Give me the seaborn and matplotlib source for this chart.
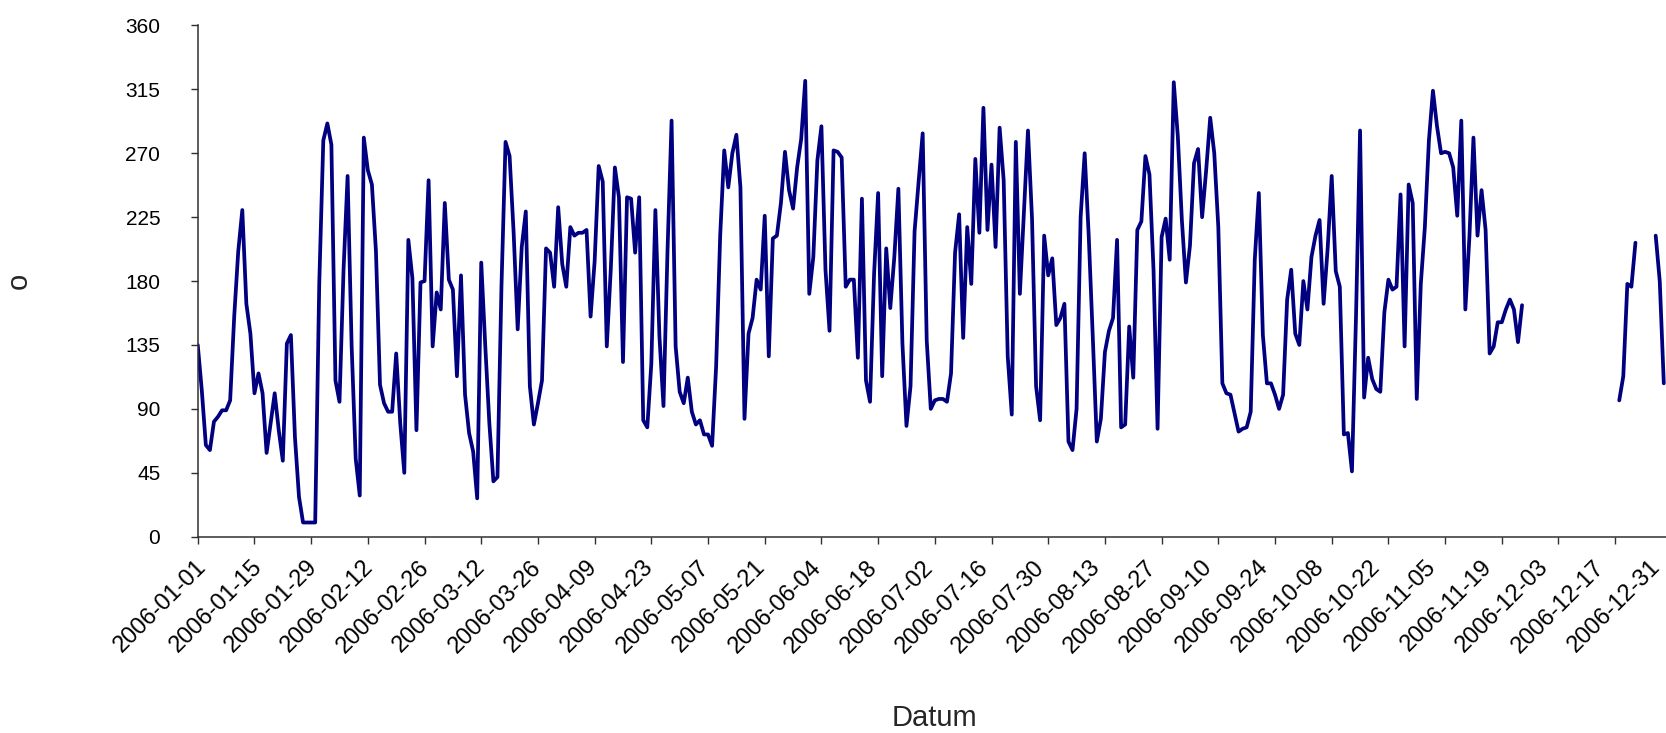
import numpy as np
import pandas as pd
import matplotlib
matplotlib.use("Agg")
import matplotlib.pyplot as plt
import matplotlib.dates as mdates
from matplotlib.transforms import ScaledTranslation
import seaborn as sns

nan = np.nan

# daily values (degrees), one list per month of 2006
jan = [135, 103, 64.5, 61, 81, 84.5, 89, 89, 96, 155, 201, 230, 164, 143, 101, 115,
       101, 59, 80, 101, 75, 53.5, 136, 142, 70, 28, 10, 10, 10, 10, 178]
feb = [279, 291, 276, 110, 95, 188, 254, 134, 55, 29, 281, 258, 248, 201, 107, 94,
       88, 88, 129, 80, 45, 209, 182, 75, 179, 180, 251, 134]
mar = [172, 160, 235, 181, 174, 113, 184, 100, 73, 60, 27, 193, 134, 80, 39, 42,
       177, 278, 268, 214, 146, 204, 229, 106, 79, 94, 110, 203, 200, 176, 232]
apr = [192, 176, 218, 212, 214, 214, 216, 155, 194, 261, 250, 134, 189, 260, 239,
       123, 239, 238, 200, 239, 82, 77, 122, 230, 141, 92, 202, 293, 134, 102]
may = [94, 112, 88, 79, 82, 72, 72, 64, 120, 212, 272, 246, 270, 283, 246, 83,
       143, 154, 181, 174, 226, 127, 210, 212, 235, 271, 244, 231, 260, 280, 321]
jun = [171, 197, 265, 289, 188, 145, 272, 271, 267, 176, 181, 181, 126, 238, 110,
       95, 185, 242, 113, 203, 161, 197, 245, 136, 78, 106, 215, 250, 284, 138]
jul = [90, 96, 97, 97, 95, 115, 200, 227, 140, 218, 178, 266, 214, 302, 216, 262,
       204, 288, 251, 127, 86, 278, 171, 228, 286, 224, 106, 82, 212, 184, 196]
aug = [149, 154, 164, 67, 61, 90, 225, 270, 212, 141, 67, 83, 130, 145, 154, 209,
       77, 79, 148, 112, 216, 222, 268, 255, 188, 76, 211, 224, 195, 320, 282]
sep = [223, 179, 205, 263, 273, 225, 258, 295, 270, 218, 108, 101, 100, 87, 74,
       76, 77, 88, 195, 242, 142, 108, 108, 100, 90, 100, 167, 188, 143, 135]
oct_ = [180, 160, 197, 212, 223, 164, 203, 254, 187, 176, 72, 73, 46, 155, 286, 98,
        126, 111, 104, 102, 158, 181, 174, 176, 241, 134, 248, 235, 97, 178, 218]
nov = [279, 314, 289, 270, 271, 270, 260, 226, 293, 160, 211, 281, 212, 244, 216,
       129, 134, 151, 151, 160, 167, 160, 137, 163, nan, nan, nan, nan, nan, nan]
dec = [nan] * 17 + [96, 113, 178, 176, 207] + [nan] * 4 + [212, 180, 108, nan, nan]

values = np.array(jan + feb + mar + apr + may + jun + jul + aug + sep + oct_ + nov + dec, dtype=float)
dates = pd.date_range("2006-01-01", periods=len(values), freq="D")

df = pd.DataFrame({"Datum": dates, "grad": values})
# give every run between missing days its own unit so the gaps stay open
df["seg"] = df["grad"].isna().cumsum()
df = df.dropna()

sns.set_style("white")
plt.rcParams["font.family"] = ["Liberation Sans", "DejaVu Sans"]

fig = plt.figure(figsize=(16.66, 7.33), dpi=100)
ax = fig.add_axes([0.1187, 0.2678, 0.8897, 0.6975])

sns.lineplot(data=df, x="Datum", y="grad", units="seg", estimator=None,
             color="#000080", linewidth=2.7, ax=ax)

start = pd.Timestamp("2006-01-01")
ax.set_xlim(mdates.date2num(start), mdates.date2num(start + pd.Timedelta(days=366)))
xt = pd.date_range("2006-01-01", "2006-12-31", freq="14D")
ax.set_xticks(mdates.date2num(xt))
ax.set_xticklabels([d.strftime("%Y-%m-%d") for d in xt], rotation=45,
                   ha="right", va="top", rotation_mode="anchor")

ax.set_ylim(0, 360)
ax.set_yticks(range(0, 361, 45))

sns.despine(ax=ax)
for s in ("left", "bottom"):
    ax.spines[s].set_color("#303030")
    ax.spines[s].set_linewidth(1.1)

ax.tick_params(axis="both", bottom=True, left=True, direction="out", length=5,
               width=1, color="#303030", labelcolor="black")
ax.tick_params(axis="y", pad=22, labelsize=15)
ax.tick_params(axis="x", pad=9, labelsize=17)

# the date labels creep left of their ticks a little more each step
for i, lab in enumerate(ax.get_xticklabels()):
    dx = (-3 - 0.77 * i) / 100
    lab.set_transform(lab.get_transform() + ScaledTranslation(dx, 0, fig.dpi_scale_trans))

ax.set_xlabel("Datum", fontsize=21, va="center")
ax.xaxis.set_label_coords(0.497, -0.355)
ax.set_ylabel("o", fontsize=21, rotation=90, va="center")
ax.yaxis.set_label_coords(-0.1206, 0.5)

fig.savefig("out.png", dpi=100)
